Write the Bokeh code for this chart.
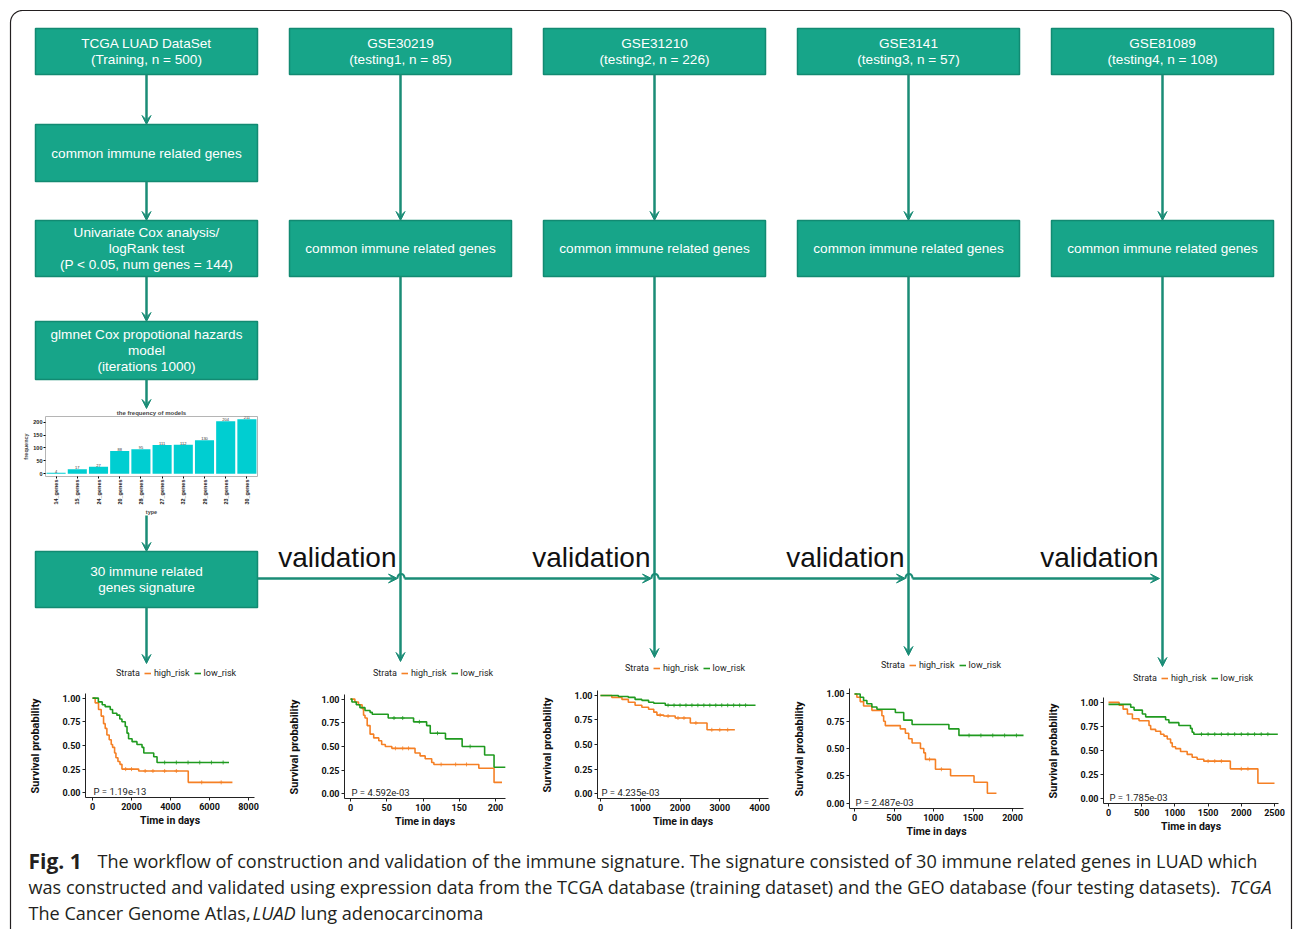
import math
import numpy as np
from bokeh.plotting import figure
from bokeh.models import (Range1d, FactorRange, ColumnDataSource, Arrow, VeeHead,
                          Legend, LegendItem, FixedTicker, PrintfTickFormatter)
from bokeh.layouts import column
from bokeh.core.properties import value
from bokeh.embed import file_html
from bokeh.resources import INLINE

W, H = 1293, 929

# ---------------- data ----------------
model_types = ["14_genes", "15_genes", "24_genes", "20_genes", "28_genes",
               "27_genes", "32_genes", "29_genes", "23_genes", "30_genes"]
model_counts = [4, 17, 27, 88, 95, 111, 112, 130, 204, 211]

# Kaplan-Meier curves: step times (days) and survival after each step,
# plus times of censored patients
tcga_high_t = [0, 137, 309, 446, 567, 652, 738, 858, 961, 1030, 1133, 1202, 1305, 1408, 1511, 2369, 4910, 7176]
tcga_high_s = [1.0, 0.95, 0.88, 0.81, 0.73, 0.68, 0.61, 0.56, 0.51, 0.48, 0.42, 0.37, 0.33, 0.30, 0.25, 0.23, 0.11, 0.11]
tcga_high_c = [1700, 2000, 2700, 3100, 3700, 4300, 5600, 6600]
tcga_low_t = [0, 300, 500, 650, 910, 1030, 1250, 1400, 1510, 1680, 1770, 1850, 2030, 2280, 2540, 2630, 3140, 3310, 7000]
tcga_low_s = [1.0, 0.96, 0.93, 0.91, 0.88, 0.84, 0.82, 0.78, 0.75, 0.70, 0.63, 0.57, 0.54, 0.51, 0.48, 0.42, 0.38, 0.32, 0.32]
tcga_low_c = [3700, 4300, 4900, 5500, 6100, 6700]

gse30219_high_t = [0, 6, 11, 16, 18, 20, 23, 27, 32, 39, 43, 48, 57, 89, 96, 103, 112, 115, 177, 198, 209]
gse30219_high_s = [1.0, 0.97, 0.94, 0.90, 0.83, 0.80, 0.72, 0.63, 0.59, 0.56, 0.52, 0.50, 0.48, 0.43, 0.40, 0.37, 0.33, 0.31, 0.27, 0.12, 0.12]
gse30219_high_c = [62, 72, 80, 125, 145, 160]
gse30219_low_t = [0, 2, 8, 13, 20, 27, 30, 52, 87, 105, 110, 131, 154, 185, 198, 214]
gse30219_low_s = [1.0, 0.97, 0.94, 0.91, 0.88, 0.86, 0.84, 0.80, 0.76, 0.72, 0.64, 0.58, 0.50, 0.41, 0.28, 0.28]
gse30219_low_c = [60, 72, 95, 120, 165]

gse31210_high_t = [0, 285, 540, 700, 870, 1040, 1210, 1340, 1420, 1590, 1880, 2260, 2680, 3380]
gse31210_high_s = [1.0, 0.98, 0.96, 0.93, 0.90, 0.88, 0.86, 0.83, 0.80, 0.79, 0.77, 0.72, 0.65, 0.65]
gse31210_high_c = [1500, 1700, 1950, 2100, 2400, 2800, 3000, 3200]
gse31210_low_t = [0, 450, 700, 870, 1040, 1210, 1340, 1630, 3900]
gse31210_low_s = [1.0, 0.99, 0.98, 0.96, 0.95, 0.93, 0.92, 0.90, 0.90]
gse31210_low_c = [1700, 1850, 2000, 2150, 2300, 2450, 2600, 2750, 2900, 3050, 3200, 3350, 3500, 3650]

gse3141_high_t = [0, 30, 72, 115, 220, 347, 369, 390, 580, 644, 686, 729, 835, 877, 898, 1025, 1216, 1513, 1682, 1797]
gse3141_high_s = [1.0, 0.97, 0.93, 0.89, 0.85, 0.80, 0.75, 0.71, 0.68, 0.64, 0.59, 0.55, 0.50, 0.46, 0.40, 0.31, 0.25, 0.19, 0.09, 0.09]
gse3141_high_c = [950, 1100]
gse3141_low_t = [0, 72, 115, 157, 220, 284, 517, 623, 729, 1195, 1322, 2148]
gse3141_low_s = [1.0, 0.97, 0.94, 0.91, 0.88, 0.86, 0.83, 0.76, 0.72, 0.68, 0.62, 0.62]
gse3141_low_c = [1450, 1600, 1750, 1900, 2050]

gse81089_high_t = [0, 160, 220, 285, 360, 460, 610, 635, 710, 785, 835, 885, 935, 960, 1010, 1085, 1185, 1260, 1335, 1435, 1835, 2250, 2500]
gse81089_high_s = [1.0, 0.97, 0.93, 0.88, 0.83, 0.81, 0.76, 0.72, 0.70, 0.67, 0.65, 0.62, 0.58, 0.54, 0.52, 0.49, 0.46, 0.43, 0.41, 0.39, 0.31, 0.16, 0.16]
gse81089_high_c = [1500, 1600, 1700, 2000, 2100]
gse81089_low_t = [0, 335, 385, 510, 560, 860, 910, 1060, 1235, 1260, 1285, 2550]
gse81089_low_s = [0.98, 0.95, 0.92, 0.88, 0.85, 0.82, 0.79, 0.76, 0.73, 0.69, 0.67, 0.67]
gse81089_low_c = [1400, 1500, 1600, 1700, 1800, 1900, 2000, 2100, 2200, 2300, 2400]

p_values = ["P = 1.19e-13", "P = 4.592e-03", "P = 4.235e-03", "P = 2.487e-03", "P = 1.785e-03"]
time_ticks = [[0, 2000, 4000, 6000, 8000], [0, 50, 100, 150, 200], [0, 1000, 2000, 3000, 4000],
              [0, 500, 1000, 1500, 2000], [0, 500, 1000, 1500, 2000, 2500]]
surv_ticks = [0.0, 0.25, 0.5, 0.75, 1.0]

dataset_titles = ["TCGA LUAD DataSet\n(Training, n = 500)",
                  "GSE30219\n(testing1, n = 85)", "GSE31210\n(testing2, n = 226)",
                  "GSE3141\n(testing3, n = 57)", "GSE81089\n(testing4, n = 108)"]
train_steps = ["common immune related genes",
               "Univariate Cox analysis/\nlogRank test\n(P < 0.05, num genes = 144)",
               "glmnet Cox propotional hazards\nmodel\n(iterations 1000)"]
signature_label = "30 immune related\ngenes signature"
test_step = "common immune related genes"

# ---------------- styles ----------------
TEAL = "#17a589"
TEAL_EDGE = "#128a72"
ARROW_C = "#1a8c76"
ORANGE = "#F58025"
GREEN = "#1F9A1F"
KM_FONT = "Roboto"
BOX_FONT = "Liberation Sans"
CAP_FONT = "Open Sans"

# ---------------- background: frame, workflow, caption ----------------
bg = figure(width=W, height=H, x_range=Range1d(0, W), y_range=Range1d(H, 0),
            min_border=0, x_axis_location=None, y_axis_location=None, frame_align=False,
            output_backend="svg", toolbar_location=None, outline_line_color=None)
bg.grid.visible = False

# rounded frame around the figure panel
r = 12
ang = np.linspace(math.pi, 1.5 * math.pi, 12)
ang2 = np.linspace(1.5 * math.pi, 2 * math.pi, 12)
fx = np.concatenate([[10], 10 + r + r * np.cos(ang), 1291 - r + r * np.cos(ang2), [1291]])
fy = np.concatenate([[940], 10 + r + r * np.sin(ang), 10 + r + r * np.sin(ang2), [940]])
bg.line(fx, fy, line_color="#231f20", line_width=1.2)

col_x = [146, 400, 654, 908, 1162]
half_w = 111
box_l, box_r, box_t, box_b, box_txt, box_cx, box_cy = [], [], [], [], [], [], []

def add_box(cx, top, bottom, txt):
    box_l.append(cx - half_w); box_r.append(cx + half_w)
    box_t.append(top); box_b.append(bottom)
    box_txt.append(txt); box_cx.append(cx); box_cy.append((top + bottom) / 2)

for i, cx in enumerate(col_x):
    add_box(cx, 28, 74, dataset_titles[i])
add_box(col_x[0], 124, 181, train_steps[0])
add_box(col_x[0], 220, 276, train_steps[1])
add_box(col_x[0], 321, 379, train_steps[2])
add_box(col_x[0], 551, 607, signature_label)
for cx in col_x[1:]:
    add_box(cx, 220, 276, test_step)

bg.quad(left=box_l, right=box_r, top=box_t, bottom=box_b,
        fill_color=TEAL, line_color=TEAL_EDGE, line_width=1.5)
bg.text(x=box_cx, y=box_cy, text=box_txt, text_align="center", text_baseline="middle",
        text_color="white", text_font=value(BOX_FONT), text_font_size="13.6px",
        text_line_height=1.07)

# arrows
ax0, ay0, ax1, ay1 = [], [], [], []
def arrow(x0, y0, x1, y1):
    ax0.append(x0); ay0.append(y0); ax1.append(x1); ay1.append(y1)

c0 = col_x[0]
arrow(c0, 74, c0, 124)
arrow(c0, 181, c0, 220)
arrow(c0, 276, c0, 321)
arrow(c0, 379, c0, 408)
arrow(c0, 515, c0, 551)
arrow(c0, 607, c0, 663)
km_arrow_end = [661, 657, 655, 666]
for cx, ye in zip(col_x[1:], km_arrow_end):
    arrow(cx, 74, cx, 220)
    arrow(cx, 276, cx, ye)
hy = 578
starts = [257] + [cx + 4 for cx in col_x[1:-1]]
for xs, cx in zip(starts, col_x[1:]):
    arrow(xs, hy, cx - 3, hy)

arrow_src = ColumnDataSource(dict(x0=ax0, y0=ay0, x1=ax1, y1=ay1))
bg.add_layout(Arrow(source=arrow_src, x_start="x0", y_start="y0", x_end="x1", y_end="y1",
                    line_color=ARROW_C, line_width=2.5,
                    end=VeeHead(size=9, fill_color=ARROW_C, line_color=ARROW_C, line_width=1)))
# small hops where the horizontal line crosses the vertical ones
hop_x = col_x[1:-1]
bg.bezier(x0=[x - 3 for x in hop_x], y0=[hy] * 3, x1=[x + 4 for x in hop_x], y1=[hy] * 3,
          cx0=[x - 3 for x in hop_x], cy0=[hy - 6] * 3, cx1=[x + 4 for x in hop_x], cy1=[hy - 6] * 3,
          line_color=ARROW_C, line_width=2)

bg.text(x=[cx - 4 for cx in col_x[1:]], y=[557] * 4, text=["validation"] * 4,
        text_align="right", text_baseline="middle", text_color="#111111",
        text_font=value(BOX_FONT), text_font_size="28px")

# caption
cap_y = [860, 886, 912]
CAP_SIZE = "18.1px"
bg.text(x=[28], y=[cap_y[0]], text=["Fig. 1"], text_font=value(CAP_FONT), text_font_style="bold",
        text_font_size="21px", text_baseline="middle", text_color="#231f20")
bg.text(x=[97, 28, 28],
        y=cap_y,
        text=["The workflow of construction and validation of the immune signature. The signature consisted of 30 immune related genes in LUAD which",
              "was constructed and validated using expression data from the TCGA database (training dataset) and the GEO database (four testing datasets).",
              "The Cancer Genome Atlas,"],
        text_font=value(CAP_FONT), text_font_size=CAP_SIZE, text_baseline="middle", text_color="#231f20")
bg.text(x=[1229, 252], y=[cap_y[1], cap_y[2]], text=["TCGA", "LUAD"], text_font=value(CAP_FONT),
        text_font_style="italic", text_font_size=CAP_SIZE, text_baseline="middle", text_color="#231f20")
bg.text(x=[300], y=[cap_y[2]], text=["lung adenocarcinoma"], text_font=value(CAP_FONT),
        text_font_size=CAP_SIZE, text_baseline="middle", text_color="#231f20")
bg.styles = {"position": "absolute", "left": "0px", "top": "0px"}

# ---------------- model frequency bar chart ----------------
BL, BT = 25, 14
pb = figure(x_range=FactorRange(factors=model_types), y_range=Range1d(-11, 222),
            frame_width=212, frame_height=60, min_border_left=BL, min_border_top=BT,
            min_border_bottom=40, min_border_right=6, frame_align=False,
            output_backend="svg", toolbar_location=None,
            border_fill_color=None, background_fill_color="white",
            outline_line_color="#b5b5b5", outline_line_width=1)
pb.vbar(x=model_types, top=model_counts, width=0.9, fill_color="#00CED1", line_color=None)
pb.text(x=model_types, y=model_counts, text=[str(v) for v in model_counts],
        text_align="center", text_baseline="bottom", text_font_size="4px", text_color="#333333")
pb.title.text = "the frequency of models"
pb.title.align = "center"
pb.title.text_font_size = "6px"
pb.title.text_font = "Liberation Sans"
pb.title.standoff = 1
pb.title.offset = 0
pb.grid.visible = False
pb.xaxis.axis_label = "type"
pb.yaxis.axis_label = "frequency"
pb.yaxis.ticker = FixedTicker(ticks=[0, 50, 100, 150, 200])
pb.xaxis.major_label_orientation = math.pi / 2
for ax in (pb.xaxis[0], pb.yaxis[0]):
    ax.axis_line_color = None
    ax.major_tick_out = 2
    ax.major_tick_in = 0
    ax.minor_tick_line_color = None
    ax.major_label_text_font = "Liberation Sans"
    ax.major_label_text_font_size = "5.5px"
    ax.major_label_text_font_style = "bold"
    ax.major_label_standoff = 1
    ax.axis_label_text_font = "Liberation Sans"
    ax.axis_label_text_font_size = "5.5px"
    ax.axis_label_text_font_style = "bold"
    ax.axis_label_standoff = 1
    ax.major_label_text_color = "#222222"
pb.styles = {"position": "absolute", "left": f"{45 - BL}px", "top": f"{416 - BT}px"}

# ---------------- Kaplan-Meier panels ----------------
km_curves = [
    (tcga_high_t, tcga_high_s, tcga_high_c, tcga_low_t, tcga_low_s, tcga_low_c),
    (gse30219_high_t, gse30219_high_s, gse30219_high_c, gse30219_low_t, gse30219_low_s, gse30219_low_c),
    (gse31210_high_t, gse31210_high_s, gse31210_high_c, gse31210_low_t, gse31210_low_s, gse31210_low_c),
    (gse3141_high_t, gse3141_high_s, gse3141_high_c, gse3141_low_t, gse3141_low_s, gse3141_low_c),
    (gse81089_high_t, gse81089_high_s, gse81089_high_c, gse81089_low_t, gse81089_low_s, gse81089_low_c),
]
# panel geometry: pixel of day 0, pixel of last tick, frame left/right, pixels of 1.0 and 0.0,
# legend offset (from frame left, above the panel top)
km_geom = [
    dict(x0=92, x1=248, left=85, right=254, y1=698, y0=793, leg=(31, 20)),
    dict(x0=350, x1=495, left=344, right=505, y1=699, y0=794, leg=(29, 21)),
    dict(x0=600, x1=759, left=597, right=768, y1=695, y0=793, leg=(28, 22)),
    dict(x0=854, x1=1012, left=849, right=1023, y1=693, y0=802, leg=(32, 23)),
    dict(x0=1108, x1=1274, left=1103, right=1278, y1=702, y0=798, leg=(30, 19)),
]
ML, MT, MB, MR = 62, 4, 34, 8
EXT = 32          # headroom above the panel for the strata legend
LEG_H = 10
# the axis title is centred on the whole frame; trailing no-break spaces keep it
# centred on the probability scale below the legend headroom
Y_TITLE = "Survival probability" + "\u00a0" * 12


def surv_at(times, surv, when):
    idx = np.searchsorted(np.asarray(times), np.asarray(when), side="right") - 1
    return [surv[i] for i in idx]


km_figs = []
for k in range(5):
    g = km_geom[k]
    ticks = time_ticks[k]
    ppd = (g["x1"] - g["x0"]) / ticks[-1]
    xs = (g["left"] - g["x0"]) / ppd
    xe = (g["right"] - g["x0"]) / ppd
    unit = g["y0"] - g["y1"]
    fh_axis = 1.1 * unit
    ftop = g["y1"] - 0.05 * unit - EXT
    fh = int(round(fh_axis + EXT))
    fw = int(round(g["right"] - g["left"]))
    p = figure(x_range=Range1d(xs, xe), y_range=Range1d(-0.05, 1.05 + EXT / unit),
               frame_width=fw, frame_height=fh, frame_align=False,
               min_border_left=ML, min_border_top=MT, min_border_bottom=MB, min_border_right=MR,
               output_backend="svg", toolbar_location=None,
               border_fill_color=None, background_fill_color=None, outline_line_color=None)
    p.title.visible = False
    p.grid.visible = False
    ht, hs, hc, lt, ls, lc = km_curves[k]
    dummy = p.line([], [], line_alpha=0)
    r_hi = p.step(ht, hs, mode="after", line_color=ORANGE, line_width=1.6)
    r_lo = p.step(lt, ls, mode="after", line_color=GREEN, line_width=1.6)
    p.scatter(hc, surv_at(ht, hs, hc), marker="cross", size=4, line_color=ORANGE, line_width=0.8)
    p.scatter(lc, surv_at(lt, ls, lc), marker="cross", size=4, line_color=GREEN, line_width=0.8)
    p.text(x=[0], y=[0.0], text=[p_values[k]], x_offset=1, y_offset=-1,
           text_baseline="middle", text_font=value(KM_FONT), text_font_size="9.5px",
           text_color="#222222")
    p.xaxis.ticker = FixedTicker(ticks=ticks)
    p.yaxis.ticker = FixedTicker(ticks=surv_ticks)
    p.yaxis.formatter = PrintfTickFormatter(format="%.2f")
    p.yaxis.bounds = (-0.05, 1.05)
    p.xaxis.axis_label = "Time in days"
    p.yaxis.axis_label = Y_TITLE
    for ax in (p.xaxis[0], p.yaxis[0]):
        ax.axis_line_color = "#222222"
        ax.axis_line_width = 1
        ax.major_tick_out = 3
        ax.major_tick_in = 0
        ax.major_tick_line_color = "#222222"
        ax.minor_tick_line_color = None
        ax.major_label_text_font = KM_FONT
        ax.major_label_text_font_style = "bold"
        ax.major_label_text_font_size = "9px"
        ax.major_label_text_color = "#111111"
        ax.major_label_standoff = 2
        ax.axis_label_text_font = KM_FONT
        ax.axis_label_text_font_style = "bold"
        ax.axis_label_text_font_size = "10.5px"
        ax.axis_label_text_color = "#111111"
    p.yaxis[0].axis_label_text_font_size = "11px"
    p.xaxis[0].axis_label_standoff = 1
    p.yaxis[0].axis_label_standoff = 17
    lx, ly = g["leg"]
    leg = Legend(items=[LegendItem(label="Strata", renderers=[dummy]),
                        LegendItem(label="high_risk", renderers=[r_hi]),
                        LegendItem(label="low_risk", renderers=[r_lo])],
                 orientation="horizontal", location=(lx - 10, fh_axis + ly - LEG_H / 2),
                 background_fill_alpha=0, border_line_alpha=0, padding=0, margin=0,
                 spacing=4, glyph_width=7, glyph_height=LEG_H, label_standoff=3,
                 label_height=LEG_H, label_text_font=KM_FONT, label_text_font_size="9px",
                 label_text_color="#222222")
    p.add_layout(leg)
    p.styles = {"position": "absolute", "left": f"{g['left'] - ML}px",
                "top": f"{int(round(ftop)) - MT}px"}
    km_figs.append(p)

root = column(bg, pb, *km_figs, width=W, height=H,
              styles={"position": "relative", "width": f"{W}px", "height": f"{H}px",
                      "overflow": "hidden"})
open("out.html", "w").write(file_html(root, INLINE))
